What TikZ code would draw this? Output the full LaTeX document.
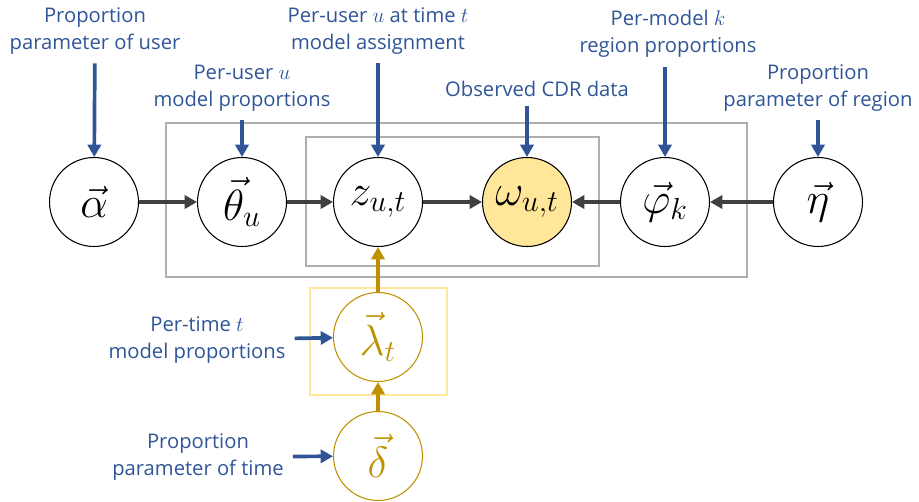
\documentclass[tikz,border=0pt]{standalone}
\usepackage{fontspec}
\setmainfont{Open Sans}
\usetikzlibrary{arrows.meta}

\definecolor{labelblue}{HTML}{2F5597}
\definecolor{timegold}{HTML}{BF9000}
\definecolor{obsfill}{HTML}{FFE699}
\definecolor{edgegray}{HTML}{404040}
\definecolor{plategray}{HTML}{AFAFAF}

\tikzset{
	var/.style={circle, draw, line width=0.6pt, minimum size=1.78cm, inner sep=0pt,
		font=\fontsize{27}{30}\selectfont},
	timevar/.style={draw=timegold, text=timegold},
	lab/.style={text=labelblue, align=center, inner sep=2pt,
		font=\fontsize{11.5}{15.3}\selectfont},
	plate/.style={draw=plategray, line width=1.1pt},
	edge/.style={-{Triangle[length=7pt, width=7.5pt]}, draw=edgegray, line width=2.1pt},
	inarrow/.style={-{Triangle[length=7pt, width=7.5pt]}, draw=labelblue, line width=2.1pt, shorten <=3pt},
	timeedge/.style={-{Triangle[length=7pt, width=7.5pt]}, draw=timegold, line width=2.1pt}
}

\begin{document}
	\begin{tikzpicture}[x=0.02cm, y=-0.02cm]
		\useasboundingbox (0,0) rectangle (919,501);

		% plates
		\draw[plate] (166,123) rectangle (747,277);
		\draw[plate] (306,137) rectangle (599,266);
		\draw[plate, draw=obsfill] (310,288) rectangle (447,395);

		% variables
		\node[var] (alpha) at (94,202) {$\vec{\alpha}$};
		\node[var] (theta) at (242,202) {$\vec{\theta}_u$};
		\node[var] (z) at (378,202) {$z_{u,t}$};
		\node[var, fill=obsfill] (omega) at (527,202) {$\omega_{u,t}$};
		\node[var] (phi) at (665,202) {$\vec{\varphi}_k$};
		\node[var] (eta) at (818,202) {$\vec{\eta}$};
		\node[var, timevar] (lambda) at (378,337) {$\vec{\lambda}_t$};
		\node[var, timevar] (delta) at (378,456) {$\vec{\delta}$};

		% labels
		\node[lab] (alphalab) at (95,31) {Proportion\\parameter of user};
		\node[lab] (thetalab) at (242,88) {Per-user $u$\\model proportions};
		\node[lab] (zlab) at (378,31) {Per-user $u$ at time $t$\\model assignment};
		\node[lab] (omegalab) at (537,89) {Observed CDR data};
		\node[lab] (philab) at (668,34) {Per-model $k$\\region proportions};
		\node[lab] (etalab) at (818,88) {Proportion\\parameter of region};
		\node[lab] (lambdalab) at (197,340) {Per-time $t$\\model proportions};
		\node[lab] (deltalab) at (198,457) {Proportion\\parameter of time};

		% dependencies
		\draw[edge] (alpha) -- (theta);
		\draw[edge] (theta) -- (z);
		\draw[edge] (z) -- (omega);
		\draw[edge] (phi) -- (omega);
		\draw[edge] (eta) -- (phi);
		\draw[timeedge] (lambda) -- (z);
		\draw[timeedge] (delta) -- (lambda);

		% label arrows
		\draw[inarrow] (alphalab) -- (alpha);
		\draw[inarrow] (thetalab) -- (theta);
		\draw[inarrow] (zlab) -- (z);
		\draw[inarrow] (omegalab.south -| omega) -- (omega);
		\draw[inarrow] (philab.south -| phi) -- (phi);
		\draw[inarrow] (etalab) -- (eta);
		\draw[inarrow] (lambdalab) -- (lambda);
		\draw[inarrow] (deltalab) -- (delta);
	\end{tikzpicture}
\end{document}
